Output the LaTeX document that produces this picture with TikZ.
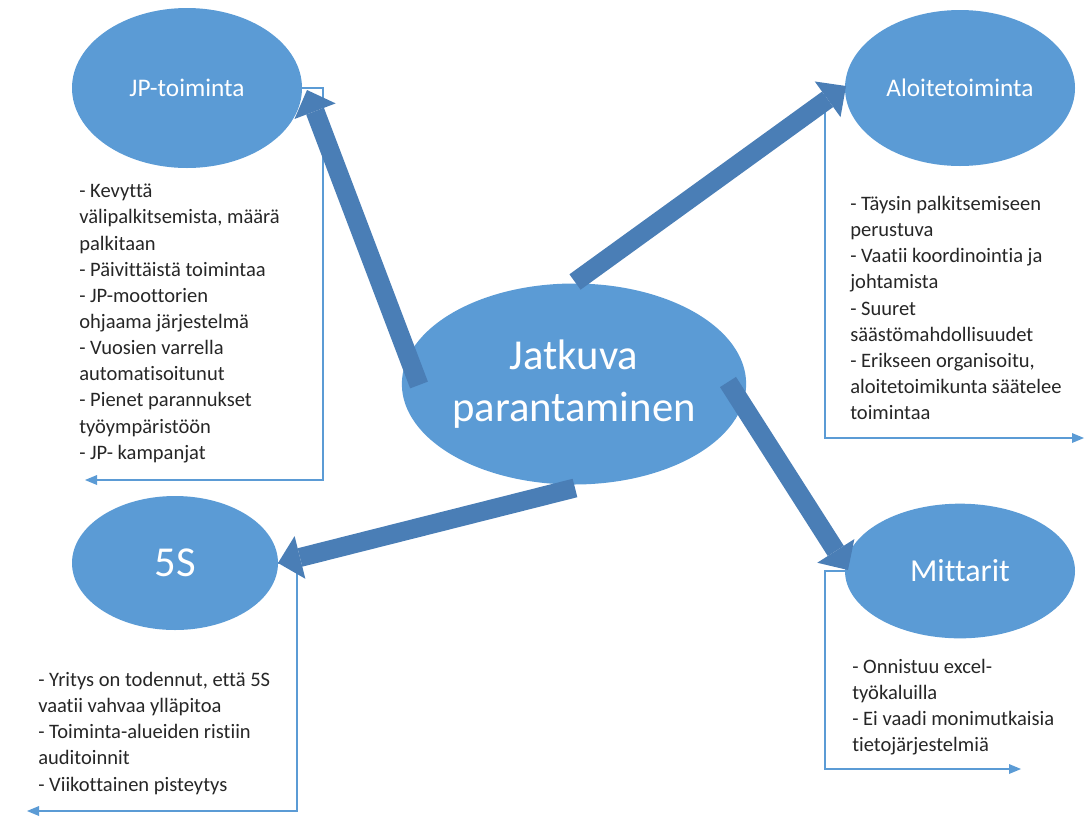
\documentclass[tikz,border=0pt]{standalone}
\usepackage{fontspec}
\setmainfont{Carlito}[Ligatures=NoCommon]
\usetikzlibrary{shapes.geometric,arrows.meta}
\definecolor{bubble}{RGB}{91,155,213}
\definecolor{blockarrow}{RGB}{74,126,182}
\definecolor{note}{RGB}{38,38,38}
\begin{document}
\begin{tikzpicture}[x=0.75pt,y=-0.75pt,
  bubble/.style={ellipse, fill=bubble, text=white, inner sep=0pt},
  bigarrow/.style={draw=blockarrow, line width=14.25pt,
    -{Triangle[length=17pt,width=33pt,line width=0pt]}},
  elbow/.style={draw=bubble, line width=1.2pt,
    -{Triangle[length=9pt,width=7.5pt,line width=0pt]}},
  notes/.style={anchor=north west, align=left, inner sep=0pt, text=note,
    font=\fontsize{15.4}{19.6}\selectfont}]
\useasboundingbox (0,0) rectangle (1085,822);

% bubbles
\node[bubble, minimum width=172.5pt, minimum height=120pt,
  font=\fontsize{19}{23}\selectfont] (jp) at (187,88) {JP-toiminta};
\node[bubble, minimum width=172.5pt, minimum height=117pt,
  font=\fontsize{19}{23}\selectfont] (alo) at (960,88) {Aloitetoiminta};
\node[bubble, minimum width=228.75pt, minimum height=150.75pt, align=center,
  font=\fontsize{32}{39}\selectfont] (cen) at (574,384) {Jatkuva\\parantaminen};
\node[bubble, minimum width=154.5pt, minimum height=100.5pt,
  font=\fontsize{32}{38}\selectfont] (five) at (175,563) {5S};
\node[bubble, minimum width=172.5pt, minimum height=101pt,
  font=\fontsize{24}{29}\selectfont] (mit) at (960,571) {Mittarit};

% elbow connectors to the note blocks
\coordinate (jpend) at (85,480);
\coordinate (aloend) at (1084,438);
\coordinate (fiveend) at (27,811);
\coordinate (mitend) at (1021,769);
\draw[elbow] (jp.east) -- ++(21,0) |- (jpend);
\draw[elbow] (alo.west) -- ++(-20,0) |- (aloend);
\draw[elbow] (five.east) -- ++(19,0) |- (fiveend);
\draw[elbow] (mit.west) -- ++(-20,0) |- (mitend);

% block arrows from the centre
\coordinate (s1) at (419,385); \coordinate (e1) at (307,90);
\coordinate (s2) at (575,282); \coordinate (e2) at (846,86);
\coordinate (s3) at (575,488); \coordinate (e3) at (278,563);
\coordinate (s4) at (728,382); \coordinate (e4) at (848,570);
\draw[bigarrow] (s1) -- (e1);
\draw[bigarrow] (s2) -- (e2);
\draw[bigarrow] (s3) -- (e3);
\draw[bigarrow] (s4) -- (e4);

% notes
\node[notes] (jpt) at (79,184) {- Kevyttä\\välipalkitsemista, määrä\\palkitaan\\- Päivittäistä toimintaa\\- JP-moottorien\\ohjaama järjestelmä\\- Vuosien varrella\\automatisoitunut\\- Pienet parannukset\\työympäristöön\\- JP- kampanjat};
\node[notes] (alot) at (850,196) {- Täysin palkitsemiseen\\perustuva\\- Vaatii koordinointia ja\\johtamista\\- Suuret\\säästömahdollisuudet\\- Erikseen organisoitu,\\aloitetoimikunta säätelee\\toimintaa};
\node[notes] (fivet) at (38,672) {- Yritys on todennut, että 5S\\vaatii vahvaa ylläpitoa\\- Toiminta-alueiden ristiin\\auditoinnit\\- Viikottainen pisteytys};
\node[notes] (mitt) at (852,659) {- Onnistuu excel-\\työkaluilla\\- Ei vaadi monimutkaisia\\tietojärjestelmiä};
\end{tikzpicture}
\end{document}
